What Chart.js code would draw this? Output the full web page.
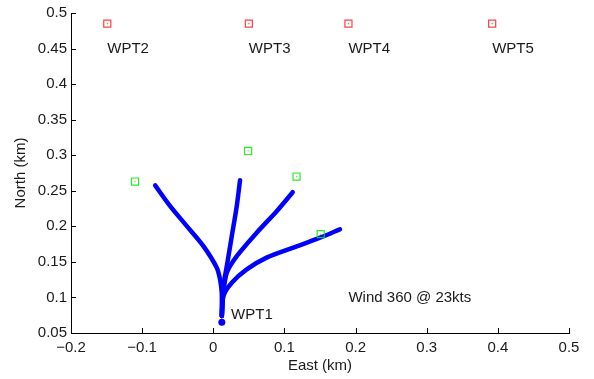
<!DOCTYPE html>
<html>
<head>
<meta charset="utf-8">
<script src="https://cdn.jsdelivr.net/npm/chart.js@4/dist/chart.umd.min.js"></script>
<style>
  body { margin: 0; background: #fff; }
  #wrap { width: 594px; height: 379px; }
</style>
</head>
<body>
<div id="wrap"><canvas id="chart" width="594" height="379"></canvas></div>
<script>
// waypoints (red squares)
const waypointNames = ["WPT2", "WPT3", "WPT4", "WPT5"];
const waypointEast = [-0.149, 0.050, 0.190, 0.392];
const waypointNorth = [0.485, 0.485, 0.485, 0.485];

// targets (green squares)
const targetEast = [-0.110, 0.049, 0.117, 0.151];
const targetNorth = [0.263, 0.306, 0.270, 0.189];

// start point WPT1
const startEast = [0.012];
const startNorth = [0.065];

// tracks
const trackAEast = [0.012, 0.012, 0.0119, 0.0095, 0.0049, -0.0139, -0.0372, -0.0606, -0.0817];
const trackANorth = [0.074, 0.090, 0.1067, 0.1254, 0.1418, 0.1722, 0.2003, 0.2284, 0.2575];
const trackBEast = [0.012, 0.0142, 0.019, 0.026, 0.033, 0.0376];
const trackBNorth = [0.074, 0.116, 0.144, 0.1862, 0.2284, 0.2649];
const trackCEast = [0.012, 0.0142, 0.019, 0.033, 0.061, 0.0891, 0.1116];
const trackCNorth = [0.074, 0.106, 0.1348, 0.158, 0.191, 0.2213, 0.248];
const trackDEast = [0.012, 0.0142, 0.026, 0.047, 0.075, 0.1125, 0.150, 0.178];
const trackDNorth = [0.074, 0.102, 0.1208, 0.1395, 0.156, 0.170, 0.184, 0.1957];

const xTicks = [-0.2, -0.1, 0, 0.1, 0.2, 0.3, 0.4, 0.5];
const yTicks = [0.05, 0.1, 0.15, 0.2, 0.25, 0.3, 0.35, 0.4, 0.45, 0.5];

const windText = "Wind 360 @ 23kts";
const FONT = "Liberation Sans, Arial, Helvetica, sans-serif";

function toPoints(xs, ys) {
  return xs.map((x, i) => ({ x: x, y: ys[i] }));
}

function fmt(v) {
  const s = String(Number(v.toFixed(2)));
  return s.replace("-", "\u2212");
}

function trackDataset(xs, ys) {
  return {
    data: toPoints(xs, ys),
    showLine: true,
    borderColor: "#0000ff",
    borderWidth: 4.5,
    borderCapStyle: "round",
    borderJoinStyle: "round",
    tension: 0.3,
    pointRadius: 0,
    order: 3,
  };
}

function squareDataset(xs, ys, color) {
  return {
    data: toPoints(xs, ys),
    pointStyle: "rect",
    pointRadius: 5,
    backgroundColor: "rgba(0,0,0,0)",
    borderColor: color,
    borderWidth: 1.2,
    order: 1,
  };
}

function centerDotDataset(xs, ys, color) {
  return {
    data: toPoints(xs, ys),
    pointStyle: "circle",
    pointRadius: 0.6,
    backgroundColor: color,
    borderWidth: 0,
    order: 0,
  };
}

// inward ticks + text labels, placed through the chart scales
const extrasPlugin = {
  id: "extras",
  afterDraw(chart) {
    const ctx = chart.ctx;
    const xs = chart.scales.x;
    const ys = chart.scales.y;
    const area = chart.chartArea;
    ctx.save();
    ctx.strokeStyle = "#000";
    ctx.lineWidth = 1;
    ctx.beginPath();
    xTicks.forEach((t) => {
      const px = Math.round(xs.getPixelForValue(t)) + 0.5;
      ctx.moveTo(px, area.bottom);
      ctx.lineTo(px, area.bottom - 5);
    });
    yTicks.forEach((t) => {
      const py = Math.round(ys.getPixelForValue(t)) + 0.5;
      ctx.moveTo(area.left, py);
      ctx.lineTo(area.left + 5, py);
    });
    ctx.stroke();

    ctx.fillStyle = "#1a1a1a";
    ctx.font = "15px " + FONT;
    ctx.textAlign = "left";
    ctx.textBaseline = "middle";
    waypointNames.forEach((name, i) => {
      ctx.fillText(name, xs.getPixelForValue(waypointEast[i]), ys.getPixelForValue(0.45));
    });
    ctx.fillText("WPT1", xs.getPixelForValue(startEast[0] + 0.013), ys.getPixelForValue(startNorth[0] + 0.01));
    ctx.fillText(windText, xs.getPixelForValue(0.19), ys.getPixelForValue(0.1));
    ctx.restore();
  },
};

const ctx = document.getElementById("chart").getContext("2d");
new Chart(ctx, {
  type: "scatter",
  data: {
    datasets: [
      trackDataset(trackAEast, trackANorth),
      trackDataset(trackBEast, trackBNorth),
      trackDataset(trackCEast, trackCNorth),
      trackDataset(trackDEast, trackDNorth),
      {
        data: toPoints(startEast, startNorth),
        pointStyle: "circle",
        pointRadius: 3.5,
        backgroundColor: "#0000ff",
        borderColor: "#0000ff",
        borderWidth: 0,
        order: 2,
      },
      squareDataset(targetEast, targetNorth, "rgba(0,235,0,0.85)"),
      squareDataset(waypointEast, waypointNorth, "rgba(255,0,0,0.75)"),
      centerDotDataset(targetEast, targetNorth, "rgba(0,200,0,0.8)"),
      centerDotDataset(waypointEast, waypointNorth, "rgba(255,0,0,0.8)"),
    ],
  },
  options: {
    responsive: false,
    animation: false,
    devicePixelRatio: 1,
    layout: { padding: { top: 13, right: 25, bottom: 0, left: 0 } },
    plugins: {
      legend: { display: false },
      tooltip: { enabled: false },
    },
    scales: {
      x: {
        type: "linear",
        min: -0.2,
        max: 0.5,
        afterBuildTicks: (scale) => { scale.ticks = xTicks.map((v) => ({ value: v })); },
        afterFit: (scale) => { scale.height = 46; },
        grid: { display: false, drawTicks: false },
        border: { display: true, color: "#000", width: 1 },
        ticks: {
          padding: 6,
          color: "#1a1a1a",
          font: { family: FONT, size: 15 },
          callback: (v) => fmt(v),
        },
        title: {
          display: true,
          text: "East (km)",
          color: "#1a1a1a",
          font: { family: FONT, size: 15 },
          padding: { top: 0, bottom: 4 },
        },
      },
      y: {
        type: "linear",
        min: 0.05,
        max: 0.5,
        afterBuildTicks: (scale) => { scale.ticks = yTicks.map((v) => ({ value: v })); },
        afterFit: (scale) => { scale.width = 71; },
        grid: { display: false, drawTicks: false },
        border: { display: true, color: "#000", width: 1 },
        ticks: {
          padding: 4,
          color: "#1a1a1a",
          font: { family: FONT, size: 15 },
          callback: (v) => fmt(v),
        },
        title: {
          display: true,
          text: "North (km)",
          color: "#1a1a1a",
          font: { family: FONT, size: 15 },
          padding: { top: 12, bottom: 0 },
        },
      },
    },
  },
  plugins: [extrasPlugin],
});
</script>
</body>
</html>
